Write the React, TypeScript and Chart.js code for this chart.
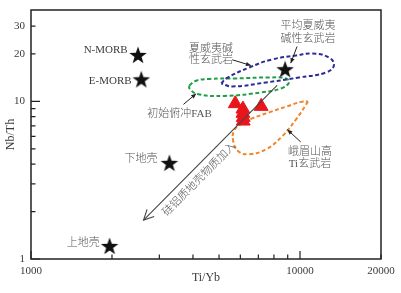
import React, { useEffect, useRef } from "react";
import { Chart, registerables } from "chart.js";
Chart.register(...registerables);

// ---------- data ----------
const xTickLabels = [1000, 10000, 20000];
const yTickLabels = [1, 10, 20, 30];

// reference stars (Ti/Yb, Nb/Th)
const starX = [2500, 2570, 3270, 1960, 8800];
const starY = [19.7, 13.8, 4.07, 1.21, 16.0];

// red triangles (samples)
const triX = [5744, 6135, 6135, 6151, 6151, 7170];
const triY = [9.67, 8.94, 8.4, 7.92, 7.5, 9.3];

// Hawaiian alkali basalt field (blue)
const hawX = [5098, 5317, 6474, 7876, 9665, 11076, 12806, 13361, 12487, 9915, 7483, 5599, 5098];
const hawY = [13.0, 13.98, 16.41, 18.45, 19.55, 20.13, 18.99, 16.9, 15.26, 14.19, 13.19, 12.44, 13.0];

// initial subduction FAB field (green)
const fabX = [3880, 4084, 4602, 5794, 7676, 8874, 9105, 8504, 7170, 5231, 4155, 3880, 3880];
const fabY = [12.63, 13.48, 13.88, 13.98, 14.19, 13.98, 13.19, 12.08, 11.4, 10.83, 11.15, 12.08, 12.63];

// Emeishan high-Ti basalt field (orange)
const emsX = [10706, 10436, 9665, 8577, 7483, 6474, 5893, 5647, 5695, 6099, 6644, 7676, 8951, 10085, 10706];
const emsY = [10.0, 9.3, 7.69, 6.0, 4.97, 4.62, 4.83, 5.58, 6.55, 7.26, 7.8, 8.52, 9.3, 9.93, 10.0];

// text labels
const noteText = ["N-MORB", "E-MORB", "下地壳", "上地壳", "初始俯冲FAB", "夏威夷碱", "性玄武岩", "平均夏威夷", "碱性玄武岩", "峨眉山高", "Ti玄武岩"];
const noteX = [2287, 2366, 2953, 1801, 3564, 4670, 4670, 10706, 10706, 10890, 10890];
const noteY = [21.0, 13.45, 4.28, 1.26, 8.36, 21.56, 18.36, 29.84, 24.94, 4.78, 3.99];
const noteAlign: CanvasTextAlign[] = ["right", "right", "right", "right", "center", "center", "center", "center", "center", "center", "center"];

// pointer arrows (from -> to)
const ptrFromX = [5599, 9748, 3687, 10060];
const ptrFromY = [18.36, 22.29, 9.57, 5.53];
const ptrToX = [6570, 9239, 4110, 8974];
const ptrToY = [16.9, 17.48, 11.19, 6.62];

// crustal contamination arrow
const trendFrom = [8219, 12.63];
const trendTo = [2621, 1.766];
const trendText = "硅铝质地壳物质加入";
const trendTextAt = [4230, 3.2];

const SERIF = "'Liberation Serif', 'Noto Sans CJK SC', serif";
const TEXT = "#3a3a3a";
const CJK_TEXT = "#555555";

function makeStar(): HTMLCanvasElement {
  const c = document.createElement("canvas");
  c.width = 20;
  c.height = 20;
  const g = c.getContext("2d")!;
  const R = 9.2, r = 3.7, cx = 10, cy = 10.8;
  g.beginPath();
  for (let i = 0; i < 10; i++) {
    const rad = i % 2 === 0 ? R : r;
    const a = -Math.PI / 2 + (i * Math.PI) / 5;
    const px = cx + rad * Math.cos(a);
    const py = cy + rad * Math.sin(a);
    if (i === 0) g.moveTo(px, py);
    else g.lineTo(px, py);
  }
  g.closePath();
  g.fillStyle = "#111";
  g.fill();
  return c;
}

function isNice(v: number) {
  const s = v / Math.pow(10, Math.floor(Math.log10(v) + 1e-9));
  return Math.abs(s - Math.round(s)) < 1e-6;
}
function isPow10(v: number) {
  const l = Math.log10(v);
  return Math.abs(l - Math.round(l)) < 1e-6;
}
function hasCJK(s: string) {
  return /[\u3400-\u9fff]/.test(s);
}

function head(ctx: CanvasRenderingContext2D, x1: number, y1: number, x2: number, y2: number, len: number, wid: number, filled: boolean) {
  const a = Math.atan2(y2 - y1, x2 - x1);
  const lx = x2 - len * Math.cos(a) + wid * Math.sin(a);
  const ly = y2 - len * Math.sin(a) - wid * Math.cos(a);
  const rx = x2 - len * Math.cos(a) - wid * Math.sin(a);
  const ry = y2 - len * Math.sin(a) + wid * Math.cos(a);
  ctx.beginPath();
  if (filled) {
    ctx.moveTo(x2, y2);
    ctx.lineTo(lx, ly);
    ctx.lineTo(rx, ry);
    ctx.closePath();
    ctx.fill();
  } else {
    ctx.moveTo(lx, ly);
    ctx.lineTo(x2, y2);
    ctx.lineTo(rx, ry);
    ctx.stroke();
  }
}

const decor = {
  id: "decor",
  afterDatasetsDraw(chart: any) {
    const ctx: CanvasRenderingContext2D = chart.ctx;
    const xs = chart.scales.x;
    const ys = chart.scales.y;
    const { left, right, top, bottom } = chart.chartArea;
    ctx.save();
    // frame
    ctx.strokeStyle = "#222";
    ctx.lineWidth = 1.5;
    ctx.strokeRect(left, top, right - left, bottom - top);
    // inward ticks
    ctx.lineWidth = 1.2;
    ctx.beginPath();
    xs.ticks.forEach((t: any) => {
      if (!isNice(t.value)) return;
      const px = xs.getPixelForValue(t.value);
      const L = isPow10(t.value) ? 8 : 4.5;
      ctx.moveTo(px, bottom);
      ctx.lineTo(px, bottom - L);
    });
    ys.ticks.forEach((t: any) => {
      if (!isNice(t.value)) return;
      const py = ys.getPixelForValue(t.value);
      const L = isPow10(t.value) ? 9 : 4.5;
      ctx.moveTo(left, py);
      ctx.lineTo(left + L, py);
    });
    ctx.stroke();

    // trend arrow
    const tx1 = xs.getPixelForValue(trendFrom[0]);
    const ty1 = ys.getPixelForValue(trendFrom[1]);
    const tx2 = xs.getPixelForValue(trendTo[0]);
    const ty2 = ys.getPixelForValue(trendTo[1]);
    ctx.strokeStyle = "#444";
    ctx.fillStyle = "#444";
    ctx.lineWidth = 1.1;
    ctx.beginPath();
    ctx.moveTo(tx1, ty1);
    ctx.lineTo(tx2, ty2);
    ctx.stroke();
    head(ctx, tx1, ty1, tx2, ty2, 10, 5, false);

    // trend text
    const ang = Math.atan2(ty1 - ty2, tx1 - tx2);
    ctx.save();
    ctx.translate(xs.getPixelForValue(trendTextAt[0]), ys.getPixelForValue(trendTextAt[1]));
    ctx.rotate(ang);
    ctx.fillStyle = CJK_TEXT;
    ctx.font = `300 11px ${SERIF}`;
    ctx.textAlign = "center";
    ctx.textBaseline = "middle";
    ctx.fillText(trendText, 0, 0);
    ctx.restore();

    // pointer arrows
    ctx.strokeStyle = "#222";
    ctx.fillStyle = "#222";
    ctx.lineWidth = 1;
    for (let i = 0; i < ptrFromX.length; i++) {
      const x1 = xs.getPixelForValue(ptrFromX[i]);
      const y1 = ys.getPixelForValue(ptrFromY[i]);
      const x2 = xs.getPixelForValue(ptrToX[i]);
      const y2 = ys.getPixelForValue(ptrToY[i]);
      ctx.beginPath();
      ctx.moveTo(x1, y1);
      ctx.lineTo(x2, y2);
      ctx.stroke();
      head(ctx, x1, y1, x2, y2, 5, 2.2, true);
    }

    // labels
    ctx.textBaseline = "middle";
    for (let i = 0; i < noteText.length; i++) {
      const cjk = hasCJK(noteText[i]);
      ctx.fillStyle = cjk ? CJK_TEXT : TEXT;
      ctx.font = cjk ? `300 11px ${SERIF}` : `11px ${SERIF}`;
      ctx.textAlign = noteAlign[i];
      ctx.fillText(noteText[i], xs.getPixelForValue(noteX[i]), ys.getPixelForValue(noteY[i]));
    }
    ctx.restore();
  },
};

function loop(xv: number[], yv: number[], color: string) {
  return {
    type: "scatter" as const,
    data: xv.map((x, i) => ({ x, y: yv[i] })),
    showLine: true,
    tension: 0.45,
    borderColor: color,
    borderWidth: 2,
    borderDash: [4, 2.5],
    pointRadius: 0,
    fill: false,
    order: 5,
  };
}

export default function App() {
  const ref = useRef<HTMLCanvasElement>(null);
  useEffect(() => {
    if (!ref.current) return;
    const star = makeStar();
    const chart = new Chart(ref.current, {
      type: "scatter",
      data: {
        datasets: [
          loop(hawX, hawY, "#2b2b95"),
          loop(fabX, fabY, "#1f9e48"),
          loop(emsX, emsY, "#f0862a"),
          {
            data: triX.map((x, i) => ({ x, y: triY[i] })),
            pointStyle: "triangle",
            pointRadius: 8,
            backgroundColor: "#e8161b",
            borderColor: "#e8161b",
            borderWidth: 1,
            order: 2,
          },
          {
            data: starX.map((x, i) => ({ x, y: starY[i] })),
            pointStyle: star,
            pointRadius: 9,
            order: 1,
          },
        ] as any,
      },
      options: {
        responsive: false,
        animation: false,
        events: [],
        layout: { padding: { top: 9.5, right: 20, bottom: 4, left: 0 } },
        plugins: { legend: { display: false }, tooltip: { enabled: false } },
        scales: {
          x: {
            type: "logarithmic",
            min: 1000,
            max: 20000,
            grid: { display: false, drawTicks: false },
            border: { display: false },
            afterFit: (s: any) => { s.height = 30; s.paddingLeft = 0; s.paddingRight = 0; },
            ticks: {
              autoSkip: false,
              maxRotation: 0,
              padding: 6,
              color: TEXT,
              font: { family: SERIF, size: 11 },
              callback: (v: any) => (xTickLabels.includes(Number(v)) ? String(v) : ""),
            },
            title: { display: true, text: "Ti/Yb", color: TEXT, font: { family: SERIF, size: 12 }, padding: 4 },
          },
          y: {
            type: "logarithmic",
            min: 1,
            max: 38,
            grid: { display: false, drawTicks: false },
            border: { display: false },
            afterFit: (s: any) => { s.width = 31; s.paddingTop = 0; s.paddingBottom = 0; },
            ticks: {
              autoSkip: false,
              padding: 6,
              color: TEXT,
              font: { family: SERIF, size: 11 },
              callback: (v: any) => (yTickLabels.includes(Number(v)) ? String(v) : ""),
            },
            title: { display: true, text: "Nb/Th", color: TEXT, font: { family: SERIF, size: 12 }, padding: 4 },
          },
        },
      },
      plugins: [decor],
    } as any);
    return () => chart.destroy();
  }, []);
  return (
    <div style={{ position: "fixed", left: 0, top: 0, width: 401, height: 293, background: "#fff" }}>
      <canvas ref={ref} width={401} height={293} style={{ display: "block" }} />
    </div>
  );
}
